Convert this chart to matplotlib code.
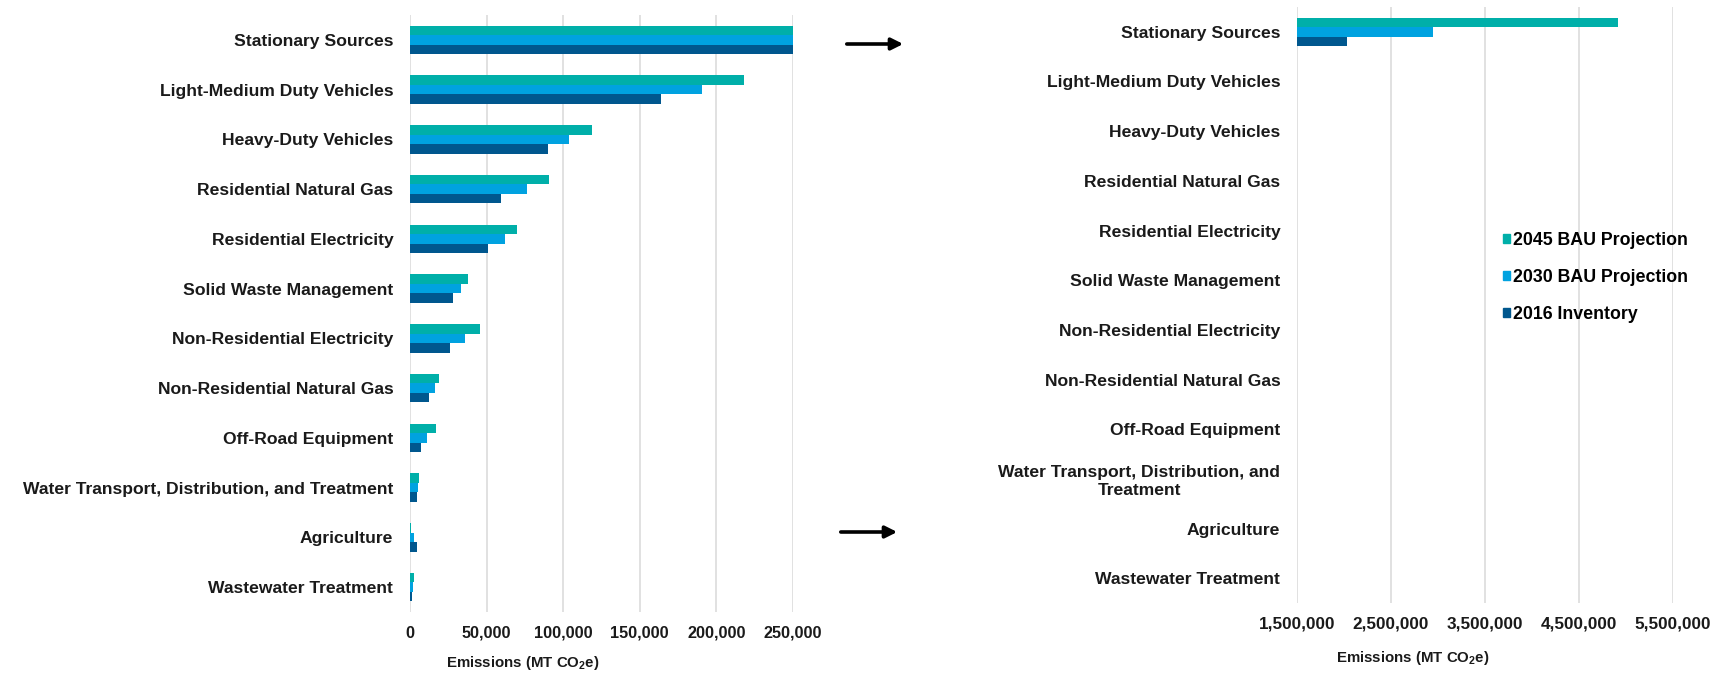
import matplotlib
matplotlib.use("Agg")
import matplotlib.pyplot as plt
from matplotlib.patches import Patch, FancyArrowPatch
from matplotlib import font_manager
import numpy as np

names = set(f.name for f in font_manager.fontManager.ttflist)
if "Liberation Sans Narrow" in names:
    label_font, label_size = "Liberation Sans Narrow", 13
else:
    label_font, label_size = "Liberation Sans", 10.8

plt.rcParams["font.family"] = ["Liberation Sans", "DejaVu Sans"]
plt.rcParams["mathtext.fontset"] = "custom"
plt.rcParams["mathtext.rm"] = label_font

sectors = ["Stationary Sources", "Light-Medium Duty Vehicles", "Heavy-Duty Vehicles",
           "Residential Natural Gas", "Residential Electricity", "Solid Waste Management",
           "Non-Residential Electricity", "Non-Residential Natural Gas", "Off-Road Equipment",
           "Water Transport, Distribution, and Treatment", "Agriculture", "Wastewater Treatment"]
sectors_wrapped = sectors[:9] + ["Water Transport, Distribution, and\nTreatment"] + sectors[10:]

bau_2045 = [4915000, 218000, 119000, 91000, 70000, 38000, 46000, 19000, 16800, 6100, 700, 2500]
bau_2030 = [2947000, 190500, 104000, 76600, 62000, 33000, 35800, 16100, 11100, 5400, 2500, 2200]
inv_2016 = [2032000, 163700, 90300, 59500, 51200, 27900, 26100, 12500, 7500, 4300, 4300, 1400]

series = [("2045 BAU Projection", bau_2045, "#00AFA9"),
          ("2030 BAU Projection", bau_2030, "#00A2E0"),
          ("2016 Inventory", inv_2016, "#00578E")]

W, H = 1726, 677
fig = plt.figure(figsize=(W / 100, H / 100), dpi=100)

ax1 = fig.add_axes([410 / W, 1 - 612 / H, 383 / W, 597 / H])
ax2 = fig.add_axes([1297 / W, 1 - 603 / H, 376 / W, 596 / H])

y = np.arange(len(sectors))
h = 0.19
for ax in (ax1, ax2):
    for k, (name, vals, col) in enumerate(series):
        ax.barh(y + (k - 1) * h, vals, height=h, color=col, label=name, zorder=2)
    ax.set_ylim(len(sectors) - 0.5, -0.5)
    ax.set_yticks(y)
    for s in ax.spines.values():
        s.set_visible(False)
    ax.grid(axis="x", color="#DCDCDC", linewidth=1.2, zorder=0)
    ax.tick_params(length=0)

ax1.set_xlim(0, 250000)
ax1.set_xticks(np.arange(0, 250001, 50000))
ax1.set_xticklabels([f"{v:,}" for v in range(0, 250001, 50000)], fontsize=11.7,
                    fontweight="bold", color="#1a1a1a")
ax1.set_yticklabels(sectors, fontsize=12.6, fontweight="bold", color="#1a1a1a")
ax1.tick_params(axis="y", pad=12)
ax1.tick_params(axis="x", pad=9.8)

ax2.set_xlim(1500000, 5500000)
ax2.set_xticks(np.arange(1500000, 5500001, 1000000))
ax2.set_xticklabels([f"{v:,}" for v in range(1500000, 5500001, 1000000)], fontsize=12.3,
                    fontweight="bold", color="#1a1a1a")
ax2.set_yticklabels(sectors_wrapped, fontsize=12.6, fontweight="bold", color="#1a1a1a",
                    multialignment="center")
ax2.tick_params(axis="y", pad=12)
ax2.tick_params(axis="x", pad=9.8)

xlab = r"Emissions (MT CO$_\mathregular{2}$e)"
for ax, xc, yc in [(ax1, 0.294, -0.0854), (ax2, 0.309, -0.092)]:
    ax.set_xlabel(xlab, family=[label_font, "DejaVu Sans"], fontsize=label_size,
                  fontweight="bold", color="#1a1a1a")
    ax.xaxis.set_label_coords(xc, yc)
    ax.xaxis.label.set_va("center")

handles = [Patch(color=c, label=n) for n, _, c in series]
fig.legend(handles=handles, loc="upper left", bbox_to_anchor=(1503 / W, 1 - 232 / H),
           frameon=False, prop={"weight": "bold", "size": 12.8},
           handlelength=0.4, handleheight=0.45, handletextpad=0.15, labelspacing=1.12,
           borderpad=0, borderaxespad=0)

# arrows pointing from the clipped bars to the zoomed panel
for (x0, x1, yy) in [(844, 906, 44), (838, 900, 532)]:
    fig.add_artist(FancyArrowPatch(
        (x0 / W, 1 - yy / H), (x1 / W, 1 - yy / H), transform=fig.transFigure,
        arrowstyle="-|>,head_length=7,head_width=3.5", color="black", linewidth=2.6,
        mutation_scale=1))

fig.savefig("out.png", dpi=100)
